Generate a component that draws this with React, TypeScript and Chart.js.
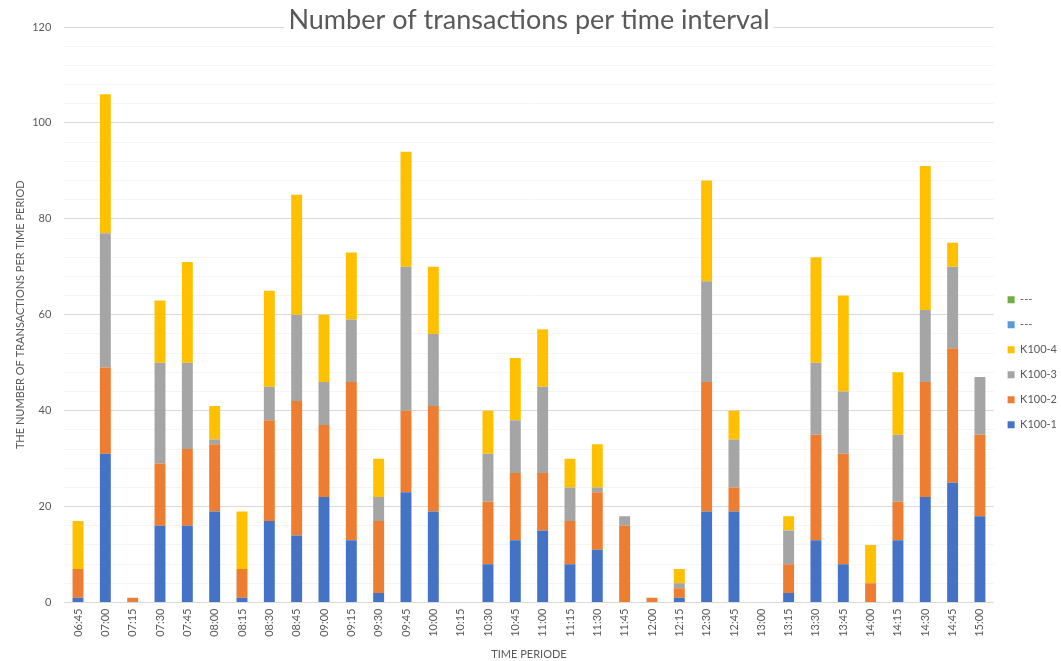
import { useEffect, useRef } from 'react';
import { Chart, registerables } from 'chart.js';

Chart.register(...registerables);

const TITLE = 'Number of transactions per time interval';
const Y_TITLE = 'THE NUMBER OF TRANSACTIONS PER TIME PERIOD';
const X_TITLE = 'TIME PERIODE';

const categories = [
  '06:45', '07:00', '07:15', '07:30', '07:45', '08:00', '08:15', '08:30', '08:45',
  '09:00', '09:15', '09:30', '09:45', '10:00', '10:15', '10:30', '10:45', '11:00',
  '11:15', '11:30', '11:45', '12:00', '12:15', '12:30', '12:45', '13:00', '13:15',
  '13:30', '13:45', '14:00', '14:15', '14:30', '14:45', '15:00',
];

const k100_1 = [1, 31, 0, 16, 16, 19, 1, 17, 14, 22, 13, 2, 23, 19, 0, 8, 13, 15, 8, 11, 0, 0, 1, 19, 19, 0, 2, 13, 8, 0, 13, 22, 25, 18];
const k100_2 = [6, 18, 1, 13, 16, 14, 6, 21, 28, 15, 33, 15, 17, 22, 0, 13, 14, 12, 9, 12, 16, 1, 2, 27, 5, 0, 6, 22, 23, 4, 8, 24, 28, 17];
const k100_3 = [0, 28, 0, 21, 18, 1, 0, 7, 18, 9, 13, 5, 30, 15, 0, 10, 11, 18, 7, 1, 2, 0, 1, 21, 10, 0, 7, 15, 13, 0, 14, 15, 17, 12];
const k100_4 = [10, 29, 0, 13, 21, 7, 12, 20, 25, 14, 14, 8, 24, 14, 0, 9, 13, 12, 6, 9, 0, 0, 3, 21, 6, 0, 3, 22, 20, 8, 13, 30, 5, 0];
const emptySeries: (number | null)[] = [];

const seriesNames = ['K100-1', 'K100-2', 'K100-3', 'K100-4', '---', '---'];
const seriesColors = ['#4472C4', '#ED7D31', '#A5A5A5', '#FFC000', '#5B9BD5', '#70AD47'];

const yMin = 0;
const yMax = 120;
const yMinorStep = 4;
const yMajorStep = 20;

const FONT = 'Lato, "Open Sans", sans-serif';
const TEXT = '#595959';

const titlePlugin = {
  id: 'excelTitle',
  afterDraw(chart: any) {
    const { ctx, chartArea } = chart;
    ctx.save();
    ctx.font = `27px ${FONT}`;
    const w = ctx.measureText(TITLE).width;
    const cx = (chartArea.left + chartArea.right) / 2;
    ctx.fillStyle = '#ffffff';
    ctx.fillRect(cx - w / 2 - 4, 4, w + 8, 32);
    ctx.fillStyle = TEXT;
    ctx.textAlign = 'center';
    ctx.textBaseline = 'middle';
    ctx.fillText(TITLE, cx, 20);
    ctx.restore();
  },
};

export default function App() {
  const ref = useRef<HTMLCanvasElement | null>(null);

  useEffect(() => {
    if (!ref.current) return;
    const data = [k100_1, k100_2, k100_3, k100_4, emptySeries, emptySeries];
    const chart = new Chart(ref.current, {
      type: 'bar',
      data: {
        labels: categories,
        datasets: data.map((d, i) => ({
          label: seriesNames[i],
          data: d,
          backgroundColor: seriesColors[i],
          borderWidth: 0,
          barPercentage: 0.4,
          categoryPercentage: 1,
        })),
      },
      options: {
        animation: false,
        responsive: true,
        maintainAspectRatio: false,
        layout: { padding: { top: 27, right: -6, bottom: 0, left: 0 } },
        plugins: {
          title: { display: false },
          tooltip: { enabled: false },
          legend: {
            position: 'right',
            reverse: true,
            title: { display: true, text: '', padding: { top: 22, bottom: 0 } },
            labels: {
              boxWidth: 7,
              boxHeight: 7,
              padding: 14,
              color: TEXT,
              font: { family: FONT, size: 11 },
            },
          },
        },
        scales: {
          x: {
            stacked: true,
            grid: { display: false, drawTicks: false },
            border: { display: false },
            ticks: {
              color: TEXT,
              font: { family: FONT, size: 11 },
              minRotation: 90,
              maxRotation: 90,
              autoSkip: false,
              padding: 6,
            },
            title: {
              display: true,
              text: X_TITLE,
              color: TEXT,
              font: { family: FONT, size: 11 },
              padding: { top: 5, bottom: 0 },
            },
          },
          y: {
            stacked: true,
            min: yMin,
            max: yMax,
            border: { display: false },
            grid: {
              drawTicks: false,
              color: (c: any) => (c.tick && c.tick.value % yMajorStep === 0 ? '#D9D9D9' : '#F4F4F4'),
            },
            ticks: {
              stepSize: yMinorStep,
              color: TEXT,
              font: { family: FONT, size: 11 },
              padding: 13,
              callback: (v: any) => (Number(v) % yMajorStep === 0 ? String(v) : ''),
            },
            title: {
              display: true,
              text: Y_TITLE,
              color: TEXT,
              font: { family: FONT, size: 11 },
              padding: { top: 14, bottom: -8 },
            },
          },
        },
      },
      plugins: [titlePlugin],
    });
    return () => chart.destroy();
  }, []);

  return (
    <div style={{ position: 'fixed', left: 0, top: 0, width: 1061, height: 661, background: '#fff' }}>
      <canvas ref={ref} />
    </div>
  );
}
